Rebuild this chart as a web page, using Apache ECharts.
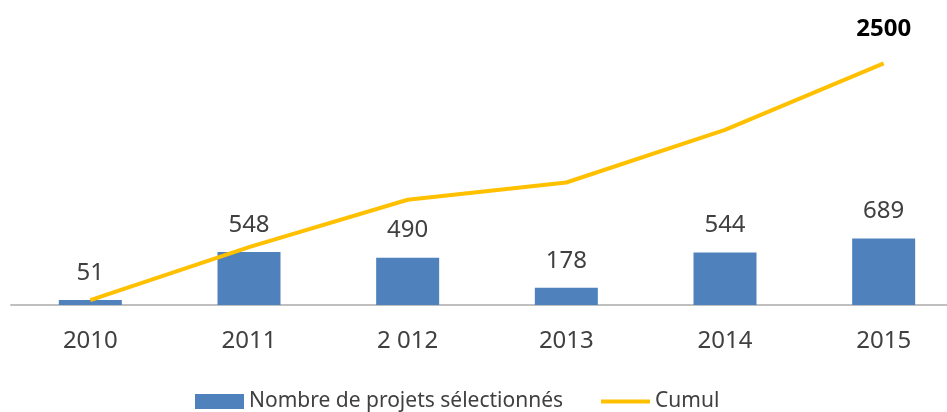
<!DOCTYPE html>
<html>
<head>
<meta charset="utf-8">
<script src="https://cdn.jsdelivr.net/npm/echarts@6/dist/echarts.min.js"></script>
<style>
  html, body { margin: 0; padding: 0; background: #fff; }
  #chart { width: 947px; height: 412px; }
</style>
</head>
<body>
<div id="chart"></div>
<script>
const years = ['2010', '2011', '2 012', '2013', '2014', '2015'];
const projets = [51, 548, 490, 178, 544, 689];
const cumul = [51, 599, 1089, 1267, 1811, 2500];

const font = 'Noto Sans';
const textColor = '#404040';

const chart = echarts.init(document.getElementById('chart'));

chart.setOption({
  animation: false,
  textStyle: { fontFamily: font },
  grid: {
    left: 11,
    width: 952,
    bottom: 107,
    top: 15,
    outerBoundsMode: 'none',
  },
  xAxis: {
    type: 'category',
    data: years,
    axisTick: { show: false },
    axisLine: { lineStyle: { color: '#bfbfbf', width: 2 } },
    axisLabel: { color: textColor, fontSize: 24, margin: 24, fontFamily: font },
  },
  yAxis: {
    type: 'value',
    min: 0,
    max: 3000,
    show: false,
    splitLine: { show: false },
  },
  legend: {
    top: 386,
    left: 190,
    itemWidth: 49,
    itemHeight: 15,
    itemGap: 38,
    textStyle: { color: textColor, fontSize: 21, fontFamily: font },
    data: [
      { name: 'Nombre de projets sélectionnés', icon: 'rect' },
      { name: 'Cumul', icon: 'path://M0,0 L48,0 L48,4 L0,4 Z' },
    ],
  },
  series: [
    {
      name: 'Nombre de projets sélectionnés',
      type: 'bar',
      data: projets,
      barWidth: 63,
      itemStyle: { color: '#4f81bd' },
      label: {
        show: true,
        position: 'top',
        distance: 15,
        color: textColor,
        fontSize: 24,
        fontFamily: font,
      },
    },
    {
      name: 'Cumul',
      type: 'line',
      data: cumul.map((v, i) => ({
        value: v,
        label: {
          show: i === cumul.length - 1,
          position: 'top',
          distance: 22,
          color: '#000',
          fontSize: 24,
          fontWeight: 'bold',
          fontFamily: font,
        },
      })),
      symbol: 'circle',
      symbolSize: 0,
      showAllSymbol: true,
      lineStyle: { color: '#ffc000', width: 4 },
      itemStyle: { color: '#ffc000' },
    },
  ],
});
</script>
</body>
</html>
